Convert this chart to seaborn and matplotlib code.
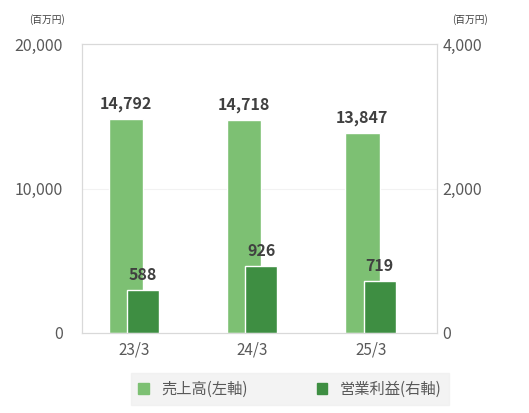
import matplotlib
matplotlib.use("Agg")
import matplotlib.pyplot as plt
import seaborn as sns
import pandas as pd
from matplotlib.patches import Patch

sns.set_theme(style="white")
plt.rcParams['font.family'] = ['Noto Sans CJK JP', 'DejaVu Sans']

periods = ["23/3", "24/3", "25/3"]
sales = [14792, 14718, 13847]
profit = [588, 926, 719]
left_ticks = [0, 10000, 20000]
right_ticks = [0, 2000, 4000]

c_sales = "#7DC073"
c_profit = "#3E8E42"
tc = "#595959"

fig = plt.figure(figsize=(5.29, 4.13), dpi=100)
ax = fig.add_axes([0.155, 0.194, 0.671, 0.699])
ax2 = ax.twinx()

df = pd.DataFrame({"period": periods, "sales": sales, "profit": profit})
sns.barplot(data=df, x="period", y="sales", ax=ax, color=c_sales, width=0.29, saturation=1)
sns.barplot(data=df, x="period", y="profit", ax=ax2, color=c_profit, width=0.27, saturation=1)
for p in ax.patches:
    p.set_x(p.get_x() - 0.13)
for p in ax2.patches:
    p.set_x(p.get_x() + 0.015)

ax.set_ylim(0, 20000)
ax2.set_ylim(0, 4000)
ax.set_xlim(-0.5, 2.5)
ax.set_xticks([i - 0.06 for i in range(len(periods))])
ax.set_xticklabels(periods)
ax.set_yticks(left_ticks)
ax.set_yticklabels([f"{v:,}" for v in left_ticks], color=tc, fontsize=11.5)
ax2.set_yticks(right_ticks)
ax2.set_yticklabels([f"{v:,}" for v in right_ticks], color=tc, fontsize=11.5)
ax.tick_params(axis='x', colors=tc, labelsize=11, length=0, pad=6)
ax.tick_params(axis='y', length=0, pad=14)
ax2.tick_params(axis='y', length=0, pad=4)
ax.set_xlabel(""); ax.set_ylabel(""); ax2.set_ylabel("")
ax.axhline(10000, color="#F2F2F2", lw=0.8, zorder=0)
for a in (ax, ax2):
    for s in a.spines.values():
        s.set_color("#D9D9D9"); s.set_linewidth(0.8)

for p, v in zip(ax.patches, sales):
    ax.text(p.get_x() + p.get_width() / 2, v + 500, f"{v:,}", ha="center", va="bottom",
            fontsize=11.5, fontweight="bold", color="#404040")
for p, v in zip(ax2.patches, profit):
    ax2.text(p.get_x() + p.get_width() / 2, v + 100, f"{v:,}", ha="center", va="bottom",
             fontsize=11.5, fontweight="bold", color="#404040")

fig.text(0.055, 0.945, "(百万円)", fontsize=7, color="#404040")
fig.text(0.855, 0.945, "(百万円)", fontsize=7, color="#404040")

handles = [Patch(color=c_sales, label="売上高(左軸)"), Patch(color=c_profit, label="営業利益(右軸)")]
leg = fig.legend(handles=handles, loc="center", bbox_to_anchor=(0.548, 0.058), ncol=2,
                 frameon=True, fontsize=11, handlelength=0.7, handleheight=0.7,
                 columnspacing=4.5, borderpad=0.5, borderaxespad=0)
leg.get_frame().set_facecolor("#F0F0F0")
leg.get_frame().set_edgecolor("#F0F0F0")
leg.get_frame().set_boxstyle("square", pad=0)
for t in leg.get_texts():
    t.set_color(tc)

fig.canvas.draw()
bb = leg.get_frame().get_bbox()
fw = fig.bbox.width
leg.get_frame().set_bounds(75, bb.y0, 425, bb.height)

fig.savefig("out.png", dpi=100)
